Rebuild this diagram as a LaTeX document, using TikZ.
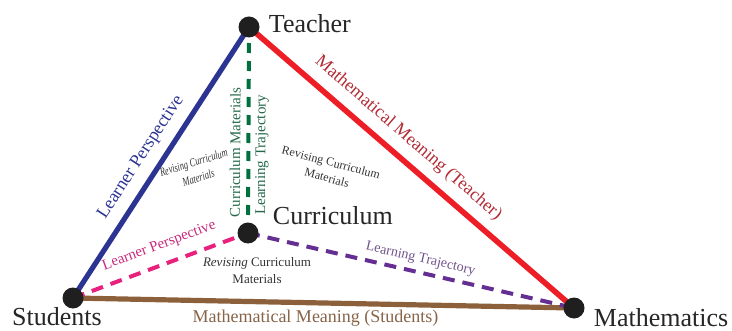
\documentclass[tikz,border=0pt]{standalone}
\usepackage{fontspec}
\setmainfont{Liberation Serif}
\usepackage{tikz}
\usetikzlibrary{positioning,backgrounds}

\definecolor{lpblue}{RGB}{44,52,146}
\definecolor{mmred}{RGB}{237,30,38}
\definecolor{mmredtext}{RGB}{178,42,52}
\definecolor{mmbrown}{RGB}{140,96,58}
\definecolor{mmbrowntext}{RGB}{135,100,72}
\definecolor{cmgreen}{RGB}{0,112,62}
\definecolor{cmgreentext}{RGB}{36,104,74}
\definecolor{lppink}{RGB}{232,34,124}
\definecolor{lppinktext}{RGB}{200,44,124}
\definecolor{ltpurple}{RGB}{100,46,146}
\definecolor{ltpurpletext}{RGB}{112,82,140}

\begin{document}
\begin{tikzpicture}[x=0.5pt,y=-0.5pt,
  vertex/.style={circle,fill=black!88,inner sep=0pt,minimum size=10.5pt},
  mainlbl/.style={font=\fontsize{13}{15}\selectfont,text=black!85},
  edgelbl/.style={font=\fontsize{9}{11}\selectfont,inner sep=2pt},
  innerlbl/.style={font=\fontsize{7.5}{9}\selectfont,inner sep=2pt},
  revlbl/.style={font=\fontsize{6.5}{8.5}\selectfont,align=center,text=black!80,inner sep=0pt}]
\useasboundingbox (0,0) rectangle (732,331);
% corners of the triangle and the inner point
\node[vertex] (T) at (249,27) {};
\node[vertex] (S) at (73,298) {};
\node[vertex] (M) at (574,308) {};
\node[vertex] (C) at (248,233) {};
\node[mainlbl, right=1pt of T, yshift=1.5pt] (Tname) {Teacher};
\node[mainlbl] (Sname) at ([xshift=-8pt,yshift=-9.25pt]S) {Students};
\node[mainlbl, right=1pt of M, yshift=-5pt] (Mname) {Mathematics};
\node[mainlbl, right=3.5pt of C, yshift=8.5pt] (Cname) {Curriculum};
\begin{scope}[on background layer]
\path [draw, line width=2.6pt, color=lpblue] (S.center) -- node[edgelbl, sloped, above=2.5pt, pos=0.48, text=lpblue] {Learner Perspective} (T.center);
\path [draw, line width=2.8pt, color=mmred] (T.center) -- node[edgelbl, sloped, above=2.5pt, pos=0.45, text=mmredtext] {Mathematical Meaning (Teacher)} (M.center);
\path [draw, line width=2.6pt, color=mmbrown] (S.center) -- node[edgelbl, below=0.5pt, pos=0.484, text=mmbrowntext] {Mathematical Meaning (Students)} (M.center);
\path [draw, line width=2pt, color=cmgreen, dash pattern=on 5pt off 4pt] (C.center) -- node[innerlbl, sloped, above=1pt, pos=0.39, text=cmgreentext] {Curriculum Materials} node[innerlbl, sloped, below=0.5pt, pos=0.38, text=cmgreentext] {Learning Trajectory} (T.center);
\path [draw, line width=2pt, color=lppink, dash pattern=on 6pt off 4pt] (S.center) -- node[innerlbl, sloped, above=3pt, pos=0.53, text=lppinktext] {Learner Perspective} (C.center);
\path [draw, line width=2pt, color=ltpurple, dash pattern=on 6pt off 4pt] (C.center) -- node[innerlbl, sloped, above=0.5pt, pos=0.52, text=ltpurpletext, font=\fontsize{7}{9}\selectfont] {Learning Trajectory} (M.center);
\end{scope}
% the three faces
\node[revlbl, rotate=17, xscale=0.7, font=\fontsize{6}{8}\itshape] (Rleft) at (196,170) {Revising Curriculum\\Materials};
\node[revlbl, rotate=-15, font=\fontsize{6}{8}\selectfont] (Rright) at (329,170) {Revising Curriculum\\Materials};
\node[revlbl] (Rbottom) at (257,271) {\textit{Revising} Curriculum\\Materials};
\end{tikzpicture}
\end{document}
